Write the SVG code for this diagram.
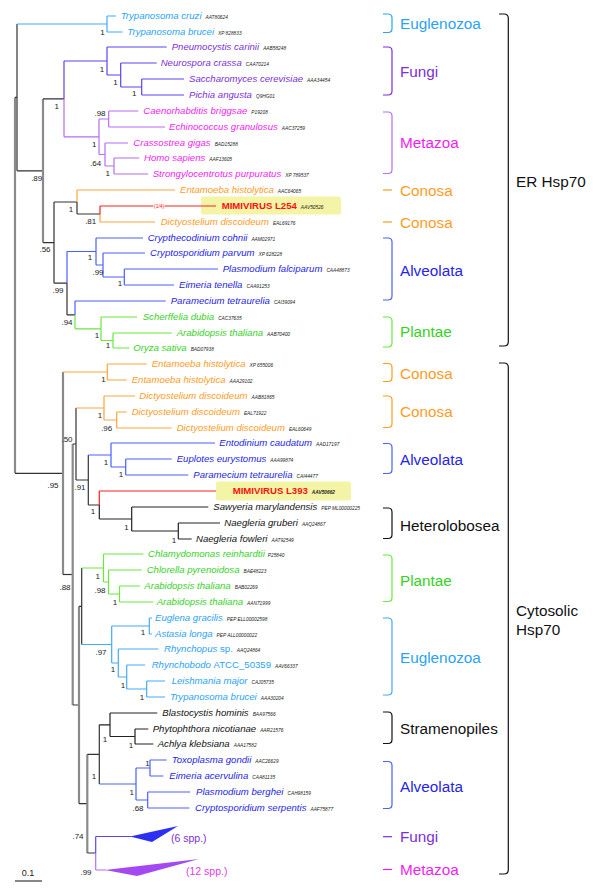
<svg xmlns="http://www.w3.org/2000/svg" width="600" height="893" viewBox="0 0 600 893">
<style>
text{font-family:"Liberation Sans",Arial,sans-serif}
.sp{font-size:9.6px;font-style:italic}
.acc{font-size:4.8px;font-style:italic;fill:#222}
.up{font-style:normal}
.mimi{font-size:9.6px;font-weight:bold;fill:#ff1010}
.sv{font-size:8px;fill:#222;text-anchor:middle}
.grp{font-size:15.3px}
.br{fill:none;stroke-width:1.2}
#conn path{fill:none;stroke-width:1.2}
.k{stroke:#333}
.g{stroke:#8a8a8a;stroke-width:2.2!important}
.eu{stroke:#45aaf5}
.fu{stroke:#5b45ee}
.mz{stroke:#b56ff2}
.co{stroke:#ffa33a}
.al{stroke:#4a60ff}
.pl{stroke:#6be83c}
.mv{stroke:#ff2020}
.bk{stroke:#222}
.teu{fill:#2aa3f5}
.tfu{fill:#7b2fd6}
.tmz{fill:#f01ef0}
.tco{fill:#ff9c1e}
.tal{fill:#2424ea}
.tpl{fill:#35d21e}
.tbk{fill:#111}
</style>
<rect width="600" height="893" fill="#fff"/>
<g id="highlights">
<rect x="201" y="196.5" width="140" height="18" rx="2" fill="#f4f4a6"/>
<rect x="216" y="481.5" width="135" height="19" rx="2" fill="#f4f4a6"/>
</g>
<g id="conn">
<path class="g" d="M15 97.4V473.3"/>
<path class="k" d="M15 97.4H17M15 473.3H63"/>
<path class="k" d="M17 24V170.8M17 170.8H43"/>
<path class="eu" d="M17 24H107M107 16V32M107 16H116M107 32H122.7"/>
<path class="g" d="M43 98.9V242.6"/>
<path class="k" d="M43 98.9H64M43 242.6H54"/>
<path class="fu" d="M64 61V98.9M64 61H107M107 47V75M107 47H166.7M107 75H120.7M120.7 63V87M120.7 63H156.7M120.7 87H141.7M141.7 79V95M141.7 79H184M141.7 95H184"/>
<path class="mz" d="M64 98.9V136.8M64 136.8H99M99 119V154.5M99 119H108.7M108.7 111V127M108.7 111H138.3M108.7 127H165M99 154.5H105M105 143V166M105 143H128M105 166H114M114 158V174M114 158H139.3M114 174H148.3"/>
<path class="k" d="M54 202V283.2M54 202H77M54 283.2H67"/>
<path class="co" d="M77 190V202M77 190H175M100 214V222M100 222H155"/>
<path class="k" d="M77 202V214M77 214H100"/>
<path class="mv" d="M100 206V214M100 206H153.5M164.5 206H216"/>
<path class="al" d="M67 251.5V283.2M67 251.5H96M96 238V265M96 238H143M96 265H103M103 253V277M103 253H145M103 277H124.3M124.3 269V285M124.3 269H218M124.3 285H174"/>
<path class="k" d="M67 283.2V314.9M67 314.9H75"/>
<path class="al" d="M75 301V314.9M75 301H165.7"/>
<path class="pl" d="M75 314.9V328.8M75 328.8H101M101 317V340.5M101 317H137M101 340.5H113M113 333V348M113 333H171.7M113 348H129.3"/>
<path class="g" d="M63 372V574.5"/>
<path class="co" d="M63 372H107.3M107.3 364V380M107.3 364H146.7M107.3 380H126.7"/>
<path class="k" d="M63 574.5H72.7"/>
<path class="g" d="M72.7 444V705"/>
<path class="k" d="M72.7 444H76M72.7 705H79M76 408V480M76 480H88.3M88.3 455V505M88.3 505H99.3"/>
<path class="co" d="M76 408H104M104 396V420M104 396H135M104 420H116.7M116.7 412V428M116.7 412H126.7M116.7 428H171.7"/>
<path class="al" d="M88.3 455H111M111 443V467M111 443H215M111 467H125.7M125.7 459V475M125.7 459H171.7M125.7 475H188.3"/>
<path class="mv" d="M99.3 491V505M99.3 491H216"/>
<path class="bk" d="M99.3 505V519M99.3 519H131.7M131.7 507V531M131.7 507H208.3M131.7 531H178.3M178.3 523V539M178.3 523H220M178.3 539H191.7"/>
<path class="g" d="M79 606.3V803.7"/>
<path class="k" d="M79 606.3H81.7M79 803.7H87.3M81.7 568V644.5"/>
<path class="pl" d="M81.7 568H103.5M103.5 554V582M103.5 554H143.3M103.5 582H108.5M108.5 570V594M108.5 570H141.7M108.5 594H119.5M119.5 586V602M119.5 586H140M119.5 602H153.3"/>
<path class="eu" d="M81.7 644.5H111.7M111.7 626V663M111.7 626H149.3M149.3 618V634M149.3 618H152M149.3 634H152M111.7 663H118.3M118.3 649V677M118.3 649H158.3M118.3 677H126.7M126.7 665V689M126.7 665H145M126.7 689H146.7M146.7 681V697M146.7 681H165M146.7 697H165"/>
<path class="g" d="M87.3 754.4V853"/>
<path class="k" d="M87.3 754.4H99.3M87.3 853H95.7M99.3 724.8V784"/>
<path class="bk" d="M99.3 724.8H110M110 713V736.5M110 713H157.3M110 736.5H135M135 729V744M135 729H148.3M135 744H153.3"/>
<path class="al" d="M99.3 784H136M136 768V800M136 768H150M150 760V776M150 760H166.7M150 776H163.3M136 800H147.7M147.7 792V808M147.7 792H190M147.7 808H189.3"/>
<path class="fu" d="M95.7 836.5V853M95.7 836.5H131"/>
<path class="mz" d="M95.7 853V870M95.7 870H106"/>
<path class="k" d="M15 881H42"/>
</g>
<g id="collapsed">
<polygon points="130,836.5 178,826 152,842" fill="#2d2ff2"/>
<polygon points="105,870 199,859 137,876" fill="#a449f2"/>
<text x="171" y="841.5" font-size="10.5" class="tfu">(6 spp.)</text>
<text x="186" y="874.5" font-size="10.5" fill="#e03ce6">(12 spp.)</text>
</g>
<g id="leaves">
<g id="l1"><text class="sp teu" x="120.7" y="19.4">Trypanosoma cruzi<tspan class="acc" dx="4">AAT80624</tspan></text></g>
<g id="l2"><text class="sp teu" x="127.3" y="35.4">Trypanosoma brucei<tspan class="acc" dx="4">XP 828833</tspan></text></g>
<g id="l3"><text class="sp tfu" x="171.7" y="50.4">Pneumocystis carinii<tspan class="acc" dx="4">AAB58248</tspan></text></g>
<g id="l4"><text class="sp tfu" x="160.7" y="66.4">Neurospora crassa<tspan class="acc" dx="4">CAA70214</tspan></text></g>
<g id="l5"><text class="sp tfu" x="189" y="82.4">Saccharomyces cerevisiae<tspan class="acc" dx="4">AAA34454</tspan></text></g>
<g id="l6"><text class="sp tfu" x="189" y="98.4">Pichia angusta<tspan class="acc" dx="4">Q9HG01</tspan></text></g>
<g id="l7"><text class="sp tmz" x="143.3" y="114.4">Caenorhabditis briggsae<tspan class="acc" dx="4">P19208</tspan></text></g>
<g id="l8"><text class="sp tmz" x="169" y="130.4">Echinococcus granulosus<tspan class="acc" dx="4">AAC37259</tspan></text></g>
<g id="l9"><text class="sp tmz" x="133.3" y="146.4">Crassostrea gigas<tspan class="acc" dx="4">BAD15288</tspan></text></g>
<g id="l10"><text class="sp tmz" x="144" y="161.4">Homo sapiens<tspan class="acc" dx="4">AAF13605</tspan></text></g>
<g id="l11"><text class="sp tmz" x="152.7" y="177.4">Strongylocentrotus purpuratus<tspan class="acc" dx="4">XP 789537</tspan></text></g>
<g id="l12"><text class="sp tco" x="180" y="193.4">Entamoeba histolytica<tspan class="acc" dx="4">AAC64065</tspan></text></g>
<g id="l13"><text x="154" y="207.8" font-size="5" fill="#ff1010">(1/4)</text><text class="mimi" x="221.7" y="209.4">MIMIVIRUS L254<tspan class="acc" dx="4" font-weight="normal">AAV50526</tspan></text></g>
<g id="l14"><text class="sp tco" x="160.7" y="225.4">Dictyostelium discoideum<tspan class="acc" dx="4">EAL69176</tspan></text></g>
<g id="l15"><text class="sp tal" x="147.7" y="241.4">Crypthecodinium cohnii<tspan class="acc" dx="4">AAM02971</tspan></text></g>
<g id="l16"><text class="sp tal" x="150" y="256.4">Cryptosporidium parvum<tspan class="acc" dx="4">XP 628228</tspan></text></g>
<g id="l17"><text class="sp tal" x="222.7" y="272.4">Plasmodium falciparum<tspan class="acc" dx="4">CAA48873</tspan></text></g>
<g id="l18"><text class="sp tal" x="179" y="288.4">Eimeria tenella<tspan class="acc" dx="4">CAA91253</tspan></text></g>
<g id="l19"><text class="sp tal" x="170.7" y="304.4">Paramecium tetraurelia<tspan class="acc" dx="4">CAI39094</tspan></text></g>
<g id="l20"><text class="sp tpl" x="142.7" y="320.4">Scherffelia dubia<tspan class="acc" dx="4">CAC37635</tspan></text></g>
<g id="l21"><text class="sp tpl" x="176.7" y="336.4">Arabidopsis thaliana<tspan class="acc" dx="4">AAB70400</tspan></text></g>
<g id="l22"><text class="sp tpl" x="133.3" y="351.4">Oryza sativa<tspan class="acc" dx="4">BAD07938</tspan></text></g>
<g id="l23"><text class="sp tco" x="151.7" y="367.4">Entamoeba histolytica<tspan class="acc" dx="4">XP 655006</tspan></text></g>
<g id="l24"><text class="sp tco" x="131.7" y="383.4">Entamoeba histolytica<tspan class="acc" dx="4">AAA29102</tspan></text></g>
<g id="l25"><text class="sp tco" x="139.3" y="399.4">Dictyostelium discoideum<tspan class="acc" dx="4">AAB81865</tspan></text></g>
<g id="l26"><text class="sp tco" x="131.7" y="415.4">Dictyostelium discoideum<tspan class="acc" dx="4">EAL71922</tspan></text></g>
<g id="l27"><text class="sp tco" x="176.7" y="431.4">Dictyostelium discoideum<tspan class="acc" dx="4">EAL60649</tspan></text></g>
<g id="l28"><text class="sp tal" x="219.3" y="446.4">Entodinium caudatum<tspan class="acc" dx="4">AAD17197</tspan></text></g>
<g id="l29"><text class="sp tal" x="176.7" y="462.4">Euplotes eurystomus<tspan class="acc" dx="4">AAA99874</tspan></text></g>
<g id="l30"><text class="sp tal" x="193.3" y="478.4">Paramecium tetraurelia<tspan class="acc" dx="4">CAI44477</tspan></text></g>
<g id="l31"><text class="mimi" x="232.7" y="494.4">MIMIVIRUS L393<tspan class="acc" dx="4" font-weight="bold">AAV50662</tspan></text></g>
<g id="l32"><text class="sp tbk" x="213.3" y="510.4">Sawyeria marylandensis<tspan class="acc" dx="4">PEP ML00000225</tspan></text></g>
<g id="l33"><text class="sp tbk" x="224.3" y="526.4">Naegleria gruberi<tspan class="acc" dx="4">AAQ24867</tspan></text></g>
<g id="l34"><text class="sp tbk" x="196" y="542.4">Naegleria fowleri<tspan class="acc" dx="4">AAT92549</tspan></text></g>
<g id="l35"><text class="sp tpl" x="148" y="557.4">Chlamydomonas reinhardtii<tspan class="acc" dx="3">P25840</tspan></text></g>
<g id="l36"><text class="sp tpl" x="146.7" y="573.4">Chlorella pyrenoidosa<tspan class="acc" dx="4">BAE48223</tspan></text></g>
<g id="l37"><text class="sp tpl" x="144.3" y="589.4">Arabidopsis thaliana<tspan class="acc" dx="4">BAB02269</tspan></text></g>
<g id="l38"><text class="sp tpl" x="156.7" y="605.4">Arabidopsis thaliana<tspan class="acc" dx="4">AAN71999</tspan></text></g>
<g id="l39"><text class="sp teu" x="155" y="621.4">Euglena gracilis<tspan class="acc" dx="4">PEP ELL00002598</tspan></text></g>
<g id="l40"><text class="sp teu" x="155" y="637.4">Astasia longa<tspan class="acc" dx="4">PEP ALL00000022</tspan></text></g>
<g id="l41"><text class="sp teu" x="164" y="652.4">Rhynchopus <tspan class="up">sp.</tspan><tspan class="acc" dx="4">AAQ24864</tspan></text></g>
<g id="l42"><text class="sp teu" x="151.7" y="668.4">Rhynchobodo <tspan class="up">ATCC_50359</tspan><tspan class="acc" dx="4">AAV66337</tspan></text></g>
<g id="l43"><text class="sp teu" x="171.7" y="684.4">Leishmania major<tspan class="acc" dx="4">CAJ05735</tspan></text></g>
<g id="l44"><text class="sp teu" x="170" y="700.4">Trypanosoma brucei<tspan class="acc" dx="4">AAA30204</tspan></text></g>
<g id="l45"><text class="sp tbk" x="162.3" y="716.4">Blastocystis hominis<tspan class="acc" dx="4">BAA97566</tspan></text></g>
<g id="l46"><text class="sp tbk" x="152.7" y="732.4">Phytophthora nicotianae<tspan class="acc" dx="4">AAR21576</tspan></text></g>
<g id="l47"><text class="sp tbk" x="157.7" y="747.4">Achlya klebsiana<tspan class="acc" dx="4">AAA17582</tspan></text></g>
<g id="l48"><text class="sp tal" x="171.7" y="763.4">Toxoplasma gondii<tspan class="acc" dx="4">AAC26629</tspan></text></g>
<g id="l49"><text class="sp tal" x="169.3" y="779.4">Eimeria acervulina<tspan class="acc" dx="4">CAA81135</tspan></text></g>
<g id="l50"><text class="sp tal" x="196" y="795.4">Plasmodium berghei<tspan class="acc" dx="4">CAH98159</tspan></text></g>
<g id="l51"><text class="sp tal" x="195" y="811.4">Cryptosporidium serpentis<tspan class="acc" dx="4">AAF75877</tspan></text></g>
</g>
<g id="support">
<text class="sv" x="102.5" y="35.4">1</text>
<text class="sv" x="56.7" y="108.9">1</text>
<text class="sv" x="102" y="71.9">1</text>
<text class="sv" x="115.5" y="84.6">1</text>
<text class="sv" x="134.3" y="96.2">1</text>
<text class="sv" x="100" y="116.2">.98</text>
<text class="sv" x="94.3" y="147.2">1</text>
<text class="sv" x="95.7" y="166.2">.64</text>
<text class="sv" x="107.7" y="176.2">1</text>
<text class="sv" x="36.7" y="180.6">.89</text>
<text class="sv" x="71" y="211.9">1</text>
<text class="sv" x="90.7" y="223.9">.81</text>
<text class="sv" x="45" y="251.9">.56</text>
<text class="sv" x="90" y="259.9">1</text>
<text class="sv" x="98" y="274.9">.99</text>
<text class="sv" x="120" y="285.9">1</text>
<text class="sv" x="58" y="293.4">.99</text>
<text class="sv" x="67" y="324.9">.94</text>
<text class="sv" x="97" y="338.3">1</text>
<text class="sv" x="108" y="347.9">1</text>
<text class="sv" x="103.5" y="381.9">1</text>
<text class="sv" x="100" y="418.4">1</text>
<text class="sv" x="106.7" y="431.2">.96</text>
<text class="sv" x="67" y="441.9">.50</text>
<text class="sv" x="106" y="464.9">1</text>
<text class="sv" x="121" y="476.9">1</text>
<text class="sv" x="80" y="489.9">.91</text>
<text class="sv" x="53" y="487.9">.95</text>
<text class="sv" x="93" y="513.9">1</text>
<text class="sv" x="126.5" y="529.9">1</text>
<text class="sv" x="174" y="542.9">1</text>
<text class="sv" x="65" y="589.9">.88</text>
<text class="sv" x="97.7" y="578.6">1</text>
<text class="sv" x="100" y="592.9">.98</text>
<text class="sv" x="115" y="604.9">1</text>
<text class="sv" x="143" y="634.9">1</text>
<text class="sv" x="101" y="654.9">.97</text>
<text class="sv" x="113" y="671.9">1</text>
<text class="sv" x="123" y="687.9">1</text>
<text class="sv" x="142" y="699.9">1</text>
<text class="sv" x="105" y="741.9">1</text>
<text class="sv" x="131" y="747.9">1</text>
<text class="sv" x="94" y="778.9">1</text>
<text class="sv" x="147.5" y="765.9">1</text>
<text class="sv" x="131.7" y="794.6">1</text>
<text class="sv" x="138" y="810.9">.68</text>
<text class="sv" x="78" y="838.9">.74</text>
<text class="sv" x="86" y="874.9">.99</text>
<text x="28" y="876" font-size="9" fill="#222" text-anchor="middle">0.1</text>
</g>
<g id="groups">
<g id="g-eug1"><path class="br" stroke="#2aa3f5" d="M383 14H388Q392 14 392 18V28.5Q392 32.5 388 32.5H383"/><text class="grp teu" x="400" y="28.5">Euglenozoa</text></g>
<g id="g-fun1"><path class="br" stroke="#7b2fd6" d="M383 47H388Q392 47 392 51V91Q392 95 388 95H383"/><text class="grp tfu" x="400" y="77">Fungi</text></g>
<g id="g-met1"><path class="br" stroke="#b56ff2" d="M383 112H388Q392 112 392 116V169.5Q392 173.5 388 173.5H383"/><text class="grp tmz" x="400" y="148.2">Metazoa</text></g>
<g id="g-con1"><path class="br" stroke="#ff9c1e" d="M383 190H392"/><text class="grp tco" x="400" y="195.8">Conosa</text></g>
<g id="g-con2"><path class="br" stroke="#ff9c1e" d="M383 222H392"/><text class="grp tco" x="400" y="227.8">Conosa</text></g>
<g id="g-alv1"><path class="br" stroke="#4a60ff" d="M383 238H388Q392 238 392 242V296Q392 300 388 300H383"/><text class="grp tal" x="400" y="275.5">Alveolata</text></g>
<g id="g-pla1"><path class="br" stroke="#6be83c" d="M383 317H388Q392 317 392 321V343Q392 347 388 347H383"/><text class="grp tpl" x="400" y="336.5">Plantae</text></g>
<g id="g-con3"><path class="br" stroke="#ff9c1e" d="M383 363.5H388Q392 363.5 392 367.5V377.5Q392 381.5 388 381.5H383"/><text class="grp tco" x="400" y="378.5">Conosa</text></g>
<g id="g-con4"><path class="br" stroke="#ff9c1e" d="M383 396H388Q392 396 392 400V423.5Q392 427.5 388 427.5H383"/><text class="grp tco" x="400" y="417.2">Conosa</text></g>
<g id="g-alv2"><path class="br" stroke="#4a60ff" d="M383 443.5H388Q392 443.5 392 447.5V469.5Q392 473.5 388 473.5H383"/><text class="grp tal" x="400" y="464.5">Alveolata</text></g>
<g id="g-het"><path class="br" stroke="#111" d="M383 508H388Q392 508 392 512V534.5Q392 538.5 388 538.5H383"/><text class="grp tbk" x="400" y="530.5">Heterolobosea</text></g>
<g id="g-pla2"><path class="br" stroke="#6be83c" d="M383 555H388Q392 555 392 559V597.5Q392 601.5 388 601.5H383"/><text class="grp tpl" x="400" y="585.5">Plantae</text></g>
<g id="g-eug2"><path class="br" stroke="#45aaf5" d="M383 618H388Q392 618 392 622V691Q392 695 388 695H383"/><text class="grp teu" x="400" y="662.8">Euglenozoa</text></g>
<g id="g-str"><path class="br" stroke="#111" d="M383 712H388Q392 712 392 716V739.5Q392 743.5 388 743.5H383"/><text class="grp tbk" x="400" y="733.8">Stramenopiles</text></g>
<g id="g-alv3"><path class="br" stroke="#4a60ff" d="M383 761.5H388Q392 761.5 392 765.5V804.5Q392 808.5 388 808.5H383"/><text class="grp tal" x="400" y="791.5">Alveolata</text></g>
<g id="g-fun2"><path class="br" stroke="#7b2fd6" d="M383 836.7H392"/><text class="grp tfu" x="400" y="842.2">Fungi</text></g>
<g id="g-met2"><path class="br" stroke="#f01ef0" d="M383 869.5H392"/><text class="grp tmz" x="400" y="875">Metazoa</text></g>
<g id="g-er"><path class="br" stroke="#111" d="M499 14H504Q508.3 14 508.3 18.3V341.7Q508.3 346 504 346H499"/><text class="grp tbk" x="516" y="186.5">ER Hsp70</text></g>
<g id="g-cyto"><path class="br" stroke="#111" d="M499 363H504Q508.3 363 508.3 367.3V869.7Q508.3 874 504 874H499"/><text class="grp tbk" x="516" y="616">Cytosolic</text><text class="grp tbk" x="516" y="635">Hsp70</text></g>
</g>
</svg>
